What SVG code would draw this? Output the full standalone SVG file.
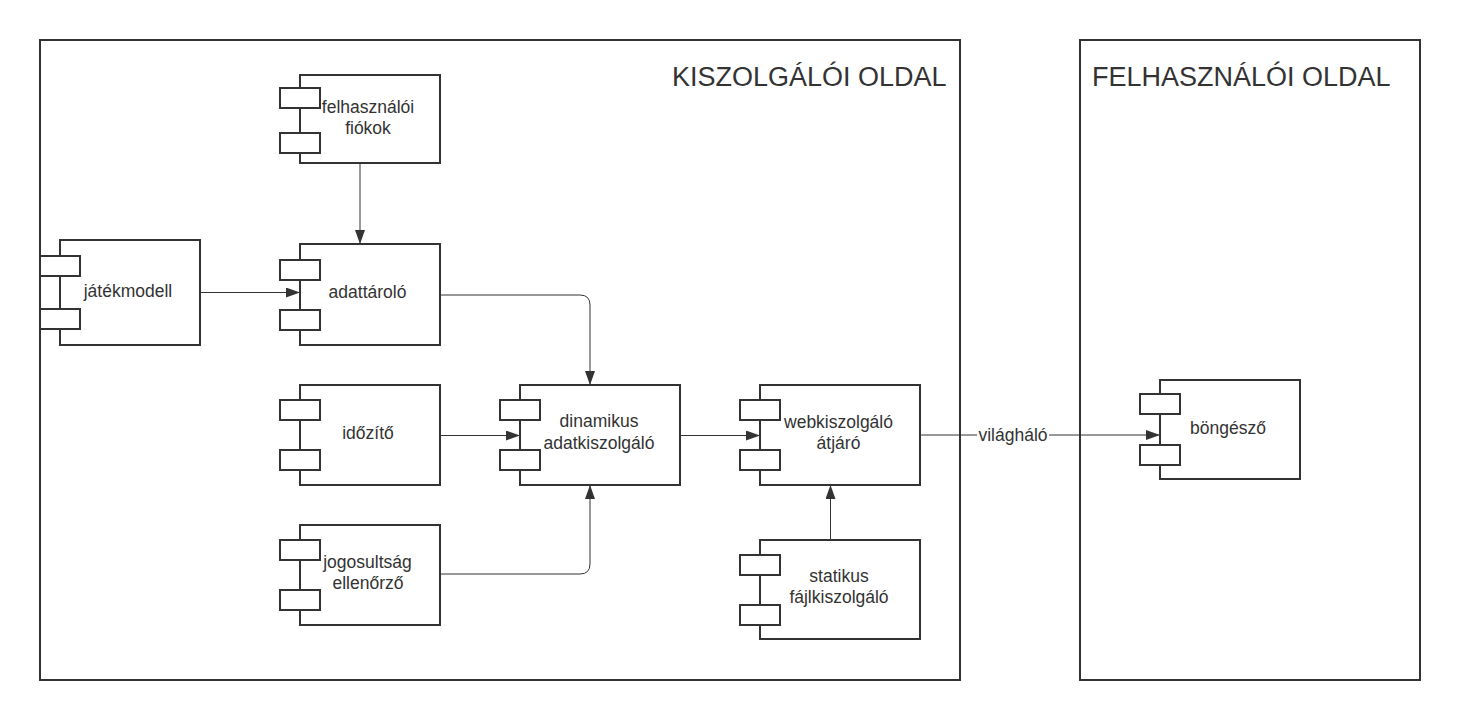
<svg xmlns="http://www.w3.org/2000/svg" width="1460" height="720" viewBox="0 0 1460 720">
<style>
.frame{fill:none;stroke:#333;stroke-width:2}
.body{fill:#fff;stroke:#333;stroke-width:2}
.port{fill:#fff;stroke:#333;stroke-width:2}
.lbl{font-family:"Liberation Sans",Arial,sans-serif;font-size:17.5px;fill:#333;text-anchor:middle}
.title{font-family:"Liberation Sans",Arial,sans-serif;font-size:27px;fill:#333}
.conn{fill:none;stroke:#333;stroke-width:1}
</style>
<defs>
<marker id="arr" markerUnits="userSpaceOnUse" markerWidth="14" markerHeight="10" refX="14" refY="5" orient="auto">
<path d="M0,0 L14,5 L0,10 Z" fill="#333"/>
</marker>
</defs>
<rect width="1460" height="720" fill="#fff"/>
<g id="server-side">
<rect class="frame" x="40" y="40" width="920" height="640"/>
<text class="title" x="672" y="86">KISZOLGÁLÓI OLDAL</text>
</g>
<g id="client-side">
<rect class="frame" x="1080" y="40" width="340" height="640"/>
<text class="title" x="1092" y="86">FELHASZNÁLÓI OLDAL</text>
</g>
<g id="connectors">
<path class="conn" d="M360,163 L360,244" marker-end="url(#arr)"/>
<path class="conn" d="M200,292.5 L300,292.5" marker-end="url(#arr)"/>
<path class="conn" d="M440,295 L580,295 Q590,295 590,305 L590,385" marker-end="url(#arr)"/>
<path class="conn" d="M440,435.5 L520,435.5" marker-end="url(#arr)"/>
<path class="conn" d="M440,574 L580,574 Q590,574 590,564 L590,485" marker-end="url(#arr)"/>
<path class="conn" d="M680,435.5 L760,435.5" marker-end="url(#arr)"/>
<path class="conn" d="M830.5,540 L830.5,485" marker-end="url(#arr)"/>
<path class="conn" d="M920,435 L1160,435" marker-end="url(#arr)"/>
<rect x="977" y="424" width="72" height="20" fill="#fff"/>
<text class="lbl" x="1013" y="441">világháló</text>
</g>
<g id="felhasznaloi-fiokok">
<rect class="body" x="300" y="75" width="140" height="88"/>
<rect class="port" x="280" y="88" width="40" height="20"/>
<rect class="port" x="280" y="133" width="40" height="20"/>
<text class="lbl" x="368" y="113">felhasználói</text>
<text class="lbl" x="368" y="134">fiókok</text>
</g>
<g id="jatekmodell">
<rect class="body" x="60" y="240" width="140" height="105"/>
<rect class="port" x="40" y="256" width="40" height="20"/>
<rect class="port" x="40" y="309" width="40" height="20"/>
<text class="lbl" x="128" y="297">játékmodell</text>
</g>
<g id="adattarolo">
<rect class="body" x="300" y="244" width="140" height="101"/>
<rect class="port" x="280" y="260" width="40" height="20"/>
<rect class="port" x="280" y="310" width="40" height="20"/>
<text class="lbl" x="367.5" y="298">adattároló</text>
</g>
<g id="idozito">
<rect class="body" x="300" y="385" width="140" height="100"/>
<rect class="port" x="280" y="400" width="40" height="20"/>
<rect class="port" x="280" y="450" width="40" height="20"/>
<text class="lbl" x="368" y="439">időzítő</text>
</g>
<g id="jogosultsag-ellenorzo">
<rect class="body" x="300" y="525" width="140" height="100"/>
<rect class="port" x="280" y="540" width="40" height="20"/>
<rect class="port" x="280" y="590" width="40" height="20"/>
<text class="lbl" x="367.5" y="568">jogosultság</text>
<text class="lbl" x="368" y="589">ellenőrző</text>
</g>
<g id="dinamikus-adatkiszolgalo">
<rect class="body" x="520" y="385" width="160" height="100"/>
<rect class="port" x="500" y="400" width="40" height="20"/>
<rect class="port" x="500" y="450" width="40" height="20"/>
<text class="lbl" x="599" y="427">dinamikus</text>
<text class="lbl" x="599" y="449">adatkiszolgáló</text>
</g>
<g id="webkiszolgalo-atjaro">
<rect class="body" x="760" y="385" width="160" height="100"/>
<rect class="port" x="740" y="400" width="40" height="20"/>
<rect class="port" x="740" y="450" width="40" height="20"/>
<text class="lbl" x="838.5" y="428">webkiszolgáló</text>
<text class="lbl" x="838.5" y="449">átjáró</text>
</g>
<g id="statikus-fajlkiszolgalo">
<rect class="body" x="760" y="540" width="160" height="99"/>
<rect class="port" x="740" y="555" width="40" height="20"/>
<rect class="port" x="740" y="605" width="40" height="20"/>
<text class="lbl" x="839" y="582">statikus</text>
<text class="lbl" x="839" y="603">fájlkiszolgáló</text>
</g>
<g id="bongeszo">
<rect class="body" x="1160" y="380" width="140" height="99"/>
<rect class="port" x="1140" y="394" width="40" height="20"/>
<rect class="port" x="1140" y="445" width="40" height="20"/>
<text class="lbl" x="1228" y="434">böngésző</text>
</g>
</svg>
